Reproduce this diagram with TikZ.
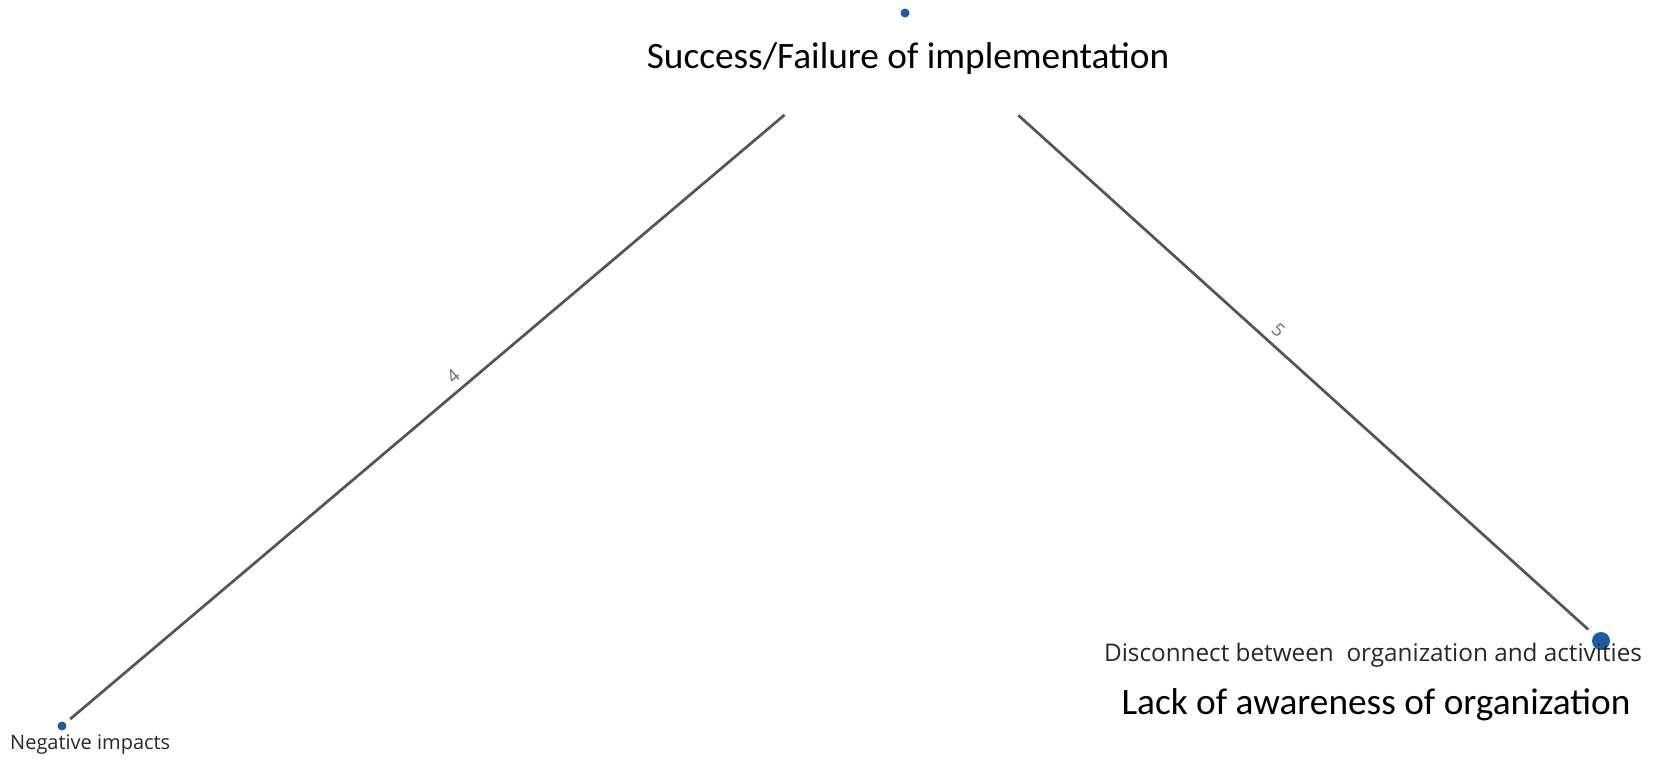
\documentclass[tikz,border=0pt]{standalone}
\usepackage{fontspec}
\setmainfont{Carlito}
\newfontfamily\uifont{Open Sans}
\begin{document}
\begin{tikzpicture}[x=1pt,y=-1pt,
  dot/.style={circle,fill=dotblue,draw=none,inner sep=0pt,minimum size=#1},
  link/.style={draw=linegray,line width=2.7pt},
  weight/.style={font=\uifont\fontsize{18}{18}\selectfont,text=labelgray,sloped,above,inner sep=7pt},
  bigtext/.style={font=\fontsize{37.3}{40}\selectfont,text=black,inner sep=0pt},
  smalltext/.style={font=\uifont\fontsize{#1}{24}\selectfont,text=textgray,inner sep=0pt}]
  \definecolor{dotblue}{RGB}{30,92,160}
  \definecolor{linegray}{RGB}{85,85,85}
  \definecolor{labelgray}{RGB}{110,110,110}
  \definecolor{textgray}{RGB}{40,40,40}
  \useasboundingbox (0,0) rectangle (1658,761);
  \fill[white] (0,0) rectangle (1658,761);

  % concept dots
  \node[dot=9pt]  (top)   at (905,13)  {};
  \node[dot=9pt]  (left)  at (62,726)  {};
  \node[dot=18pt] (right) at (1601,641) {};

  % labels
  \node[bigtext]   (ttop)   at (908,59)  {Success/Failure of implementation};
  \node[smalltext=20,anchor=west] (tleft) at (10,745) {Negative impacts};
  \node[smalltext=24.3] (tright) at (1373,655) {Disconnect between\ \ organization and activities};
  \node[bigtext]   (tlack)  at (1376,705) {Lack of awareness of organization};

  % weighted links
  \draw[link,shorten <=153pt,shorten >=6pt] (top) -- node[weight,pos=0.525] {4} (left);
  \draw[link,shorten <=148pt,shorten >=8pt] (top) -- node[weight,pos=0.525] {5} (right);
\end{tikzpicture}
\end{document}
